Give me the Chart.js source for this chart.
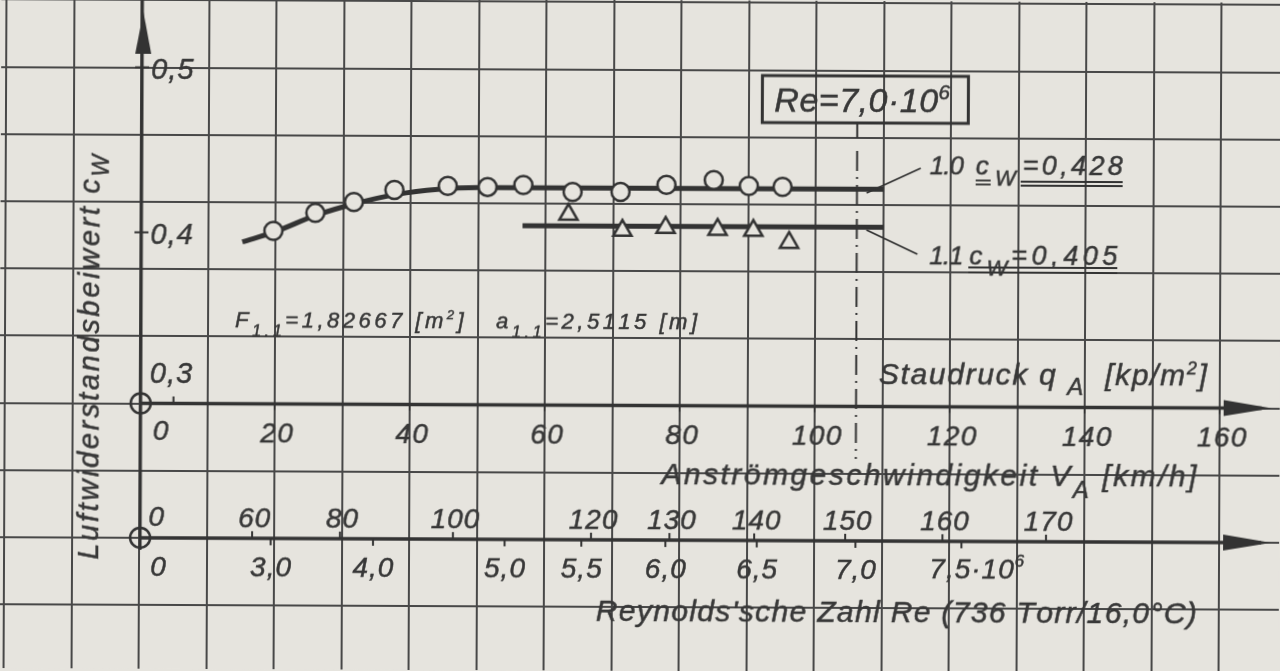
<!DOCTYPE html>
<html>
<head>
<meta charset="utf-8">
<script src="https://cdn.jsdelivr.net/npm/chart.js@4.4.1/dist/chart.umd.min.js"></script>
<style>
  html, body { margin: 0; padding: 0; background: #e6e4de; overflow: hidden; }
  #wrap { width: 1280px; height: 671px; }
  /* the scan sits a quarter degree askew on the glass */
  #cwChart { transform: rotate(0.25deg); transform-origin: 640px 335px; }
</style>
</head>
<body>
<div id="wrap"><canvas id="cwChart" width="1280" height="671"></canvas></div>
<script>
// ===== DATA =====
// x values are Staudruck q_A [kp/m2], y values c_W
const qCircle   = [19.7, 25.9, 31.6, 37.6, 45.5, 51.4, 56.7, 64.0, 71.1, 77.9, 84.9, 90.1, 95.1];
const cwCircle  = [0.4012, 0.4122, 0.4189, 0.4263, 0.4289, 0.4284, 0.4297, 0.4256, 0.4257, 0.4301, 0.4332, 0.4297, 0.4292];
const qTri      = [63.4, 71.4, 77.8, 85.5, 90.8, 96.1];
const cwTri     = [0.4119, 0.4024, 0.4043, 0.4032, 0.4027, 0.3955];
const qFit10    = [15.1, 20, 26, 32, 38, 44, 50, 56, 110.1];
const cwFit10   = [0.3944, 0.4008, 0.4108, 0.4182, 0.4237, 0.4268, 0.428, 0.428, 0.428];
const qFit11    = [56.6, 110.1];
const cwFit11   = [0.405, 0.405];

// axis ticks
const cwTicks   = [0.5, 0.4, 0.3];
const cwLabels  = ["0,5", "0,4", "0,3"];
const qTicks    = [20, 40, 60, 80, 100, 120, 140, 160];
const vTicks    = [60, 80, 100, 120, 130, 140, 150, 160, 170];      // km/h
const reTicks   = [3.0, 4.0, 5.0, 5.5, 6.0, 6.5, 7.0, 7.5];          // x 10^6
const reLabels  = ["3,0", "4,0", "5,0", "5,5", "6,0", "6,5", "7,0", "7,5·10"];
const reMarked  = 7.0;

// air at 736 Torr / 16,0 C
const RHO = 0.1205;            // kp s2/m4
const RE_PER_KMH = 46330;      // Re per km/h (reference length a = 2,5115 m)
const qFromV  = v => RHO / 2 * Math.pow(v / 3.6, 2);
const qFromRe = re => qFromV(re * 1e6 / RE_PER_KMH);

// ===== LOOK =====
const PAPER = "#e6e4de";
const INK = "#333333";
const TXT = "#383838";
const FONT = '"Liberation Sans", Arial, sans-serif';

// text drawn glyph by glyph so the wide letter spacing of the original can be matched
function richText(ctx, segs, x, y, size, opts = {}) {
  const parts = [];
  let natural = 0;
  for (const seg of segs) {
    const [t, s = 1, dy = 0] = Array.isArray(seg) ? seg : [seg];
    const fs = size * s;
    ctx.font = `italic ${fs}px ${FONT}`;
    for (const ch of t) {
      const w = ctx.measureText(ch).width;
      parts.push([ch, fs, dy, w]);
      natural += w;
    }
  }
  const ls = opts.width ? (opts.width - natural) / Math.max(1, parts.length - 1) : (opts.ls ?? 1);
  const total = natural + ls * (parts.length - 1);
  let cx = opts.align === "center" ? x - total / 2 : x;
  ctx.fillStyle = opts.color || TXT;
  ctx.strokeStyle = opts.color || TXT;
  ctx.lineWidth = 0.5;
  ctx.textBaseline = "alphabetic";
  ctx.textAlign = "left";
  for (const [ch, fs, dy, w] of parts) {
    ctx.font = `italic ${fs}px ${FONT}`;
    ctx.fillText(ch, cx, y + dy);
    ctx.strokeText(ch, cx, y + dy);
    cx += w + ls;
  }
  return cx;
}

function line(ctx, x1, y1, x2, y2, w, dash) {
  ctx.save();
  ctx.strokeStyle = INK;
  ctx.lineWidth = w;
  if (dash) ctx.setLineDash(dash);
  ctx.beginPath();
  ctx.moveTo(x1, y1);
  ctx.lineTo(x2, y2);
  ctx.stroke();
  ctx.restore();
}

function arrowHead(ctx, tipX, tipY, dir, len, half) {
  ctx.save();
  ctx.fillStyle = INK;
  ctx.beginPath();
  if (dir === "up") {
    ctx.moveTo(tipX, tipY);
    ctx.lineTo(tipX - half, tipY + len);
    ctx.lineTo(tipX + half, tipY + len);
  } else {
    ctx.moveTo(tipX, tipY);
    ctx.lineTo(tipX - len, tipY - half);
    ctx.lineTo(tipX - len, tipY + half);
  }
  ctx.closePath();
  ctx.fill();
  ctx.restore();
}

const paperPlugin = {
  id: "paper",
  beforeDraw(chart) {
    const { ctx, width, height } = chart;
    ctx.save();
    ctx.fillStyle = PAPER;
    ctx.fillRect(0, 0, width, height);
    ctx.restore();
  },
  afterDraw(chart) {
    const { ctx } = chart;
    const sx = chart.scales.x, sy = chart.scales.y, sp = chart.scales.yp;
    const x0 = sx.getPixelForValue(0);
    const yQ = sp.getPixelForValue(6);    // Staudruck axis
    const yR = sp.getPixelForValue(8);    // Geschwindigkeit / Reynolds axis

    // ----- axes -----
    line(ctx, x0 + 1, 0, x0 + 1, yR + 12, 3);
    arrowHead(ctx, x0 + 2, 14, "up", 42, 8);
    line(ctx, x0, yQ, 1262, yQ, 3.5);
    line(ctx, x0, yR, 1262, yR, 3.5);
    arrowHead(ctx, 1272, yQ, "right", 48, 8);
    arrowHead(ctx, 1272, yR, "right", 48, 8);
    for (const y of [yQ, yR]) {
      ctx.save();
      ctx.strokeStyle = INK;
      ctx.lineWidth = 2.5;
      ctx.beginPath();
      ctx.arc(x0 + 1, y, 10, 0, Math.PI * 2);
      ctx.stroke();
      ctx.restore();
    }

    // ----- c_W ticks -----
    cwTicks.forEach((v, i) => {
      const y = sy.getPixelForValue(v);
      if (v !== 0.3) line(ctx, x0 - 6, y, x0 + 8, y, 2);
      const by = v === 0.3 ? y - 15 : y + 11;
      richText(ctx, [cwLabels[i]], x0 + 10, by, 29, { ls: 1 });
    });
    line(ctx, sx.getPixelForValue(5), yQ - 7, sx.getPixelForValue(5), yQ, 2);

    // ----- q ticks -----
    richText(ctx, ["0"], x0 + 21, yQ + 36, 28, { align: "center" });
    qTicks.forEach(v => {
      const x = sx.getPixelForValue(v);
      line(ctx, x, yQ, x, yQ + 6, 2);
      richText(ctx, [String(v)], x + 2, yQ + 38, 28, { align: "center", ls: 1.5 });
    });

    // ----- V ticks (above) and Re ticks (below) -----
    richText(ctx, ["0"], x0 + 17, yR - 12, 28, { align: "center" });
    vTicks.forEach(v => {
      const x = sx.getPixelForValue(qFromV(v));
      line(ctx, x, yR - 7, x, yR, 2);
      richText(ctx, [String(v)], x + 2, yR - 11, 28, { align: "center", ls: 1 });
    });
    richText(ctx, ["0"], x0 + 19, yR + 38, 28, { align: "center" });
    reTicks.forEach((v, i) => {
      const x = sx.getPixelForValue(qFromRe(v));
      line(ctx, x, yR, x, yR + 7, 2);
      if (i === reTicks.length - 1) {
        richText(ctx, [reLabels[i], ["6", 0.6, -12]], x - 32, yR + 37, 28, { ls: 1 });
      } else {
        richText(ctx, [reLabels[i]], x, yR + 38, 28, { align: "center", ls: 1 });
      }
    });

    // ----- axis titles -----
    richText(ctx, ["Staudruck q ", ["A", 0.8, 10], "  [kp/m", ["2", 0.6, -11], "]"], 879, 383, 30, { width: 328 });
    richText(ctx, ["Anströmgeschwindigkeit V", ["A", 0.8, 12], " [km/h]"], 662, 484, 30, { width: 535 });
    richText(ctx, ["Reynolds'sche Zahl Re (736 Torr/16,0°C)"], 597, 621, 30, { width: 601 });
    ctx.save();
    ctx.translate(99, 562);
    ctx.rotate(-Math.PI / 2);
    richText(ctx, ["Luftwiderstandsbeiwert c", ["W", 0.8, 9]], 0, 0, 29, { width: 405 });
    ctx.restore();

    richText(ctx, ["F", ["1.1", 0.75, 9], "=1,82667 [m", ["2", 0.6, -9], "]   a", ["1.1", 0.75, 9], "=2,5115 [m]"],
      235, 329, 22, { width: 462 });

    // ----- Re = 7,0·10^6 marker -----
    const xm = sx.getPixelForValue(qFromRe(reMarked));
    ctx.save();
    ctx.strokeStyle = INK;
    ctx.lineWidth = 3;
    ctx.strokeRect(xm - 95, 75, 206, 47);
    ctx.restore();
    richText(ctx, ["Re=7,0·10", ["6", 0.6, -13]], xm - 83, 111, 34, { ls: 0.5 });
    line(ctx, xm, 122, xm, 137, 2);
    line(ctx, xm, 150, xm, 458, 2, [20, 6, 2, 6]);

    // ----- fitted values -----
    line(ctx, 866, 192, 920, 167, 1.8);
    line(ctx, 866, 229, 917, 253, 1.8);
    richText(ctx, ["1.0"], 929, 173, 26, { ls: -1 });
    richText(ctx, ["c", ["W", 0.85, 11]], 975, 173, 26, { width: 40 });
    richText(ctx, ["=0,428"], 1022, 173, 27, { width: 100 });
    richText(ctx, ["1.1"], 929, 263, 26, { ls: -1 });
    richText(ctx, ["c", ["W", 0.85, 11]], 969, 263, 26, { width: 38 });
    richText(ctx, ["=0,405"], 1011, 263, 27, { width: 106 });
    line(ctx, 975, 179, 990, 179, 1.8); line(ctx, 975, 183, 990, 183, 1.8);
    line(ctx, 1020, 180, 1122, 180, 1.8); line(ctx, 1020, 184, 1122, 184, 1.8);
    line(ctx, 968, 266, 1117, 266, 1.8); line(ctx, 968, 271, 1117, 271, 1.8);
  }
};

const toXY = (xs, ys) => xs.map((x, i) => ({ x, y: ys[i] }));

// paper geometry (before the quarter-degree tilt)
const X0_PX = 140, PX_PER_Q = 6.75;
const Y05_PX = 69.5, PX_PER_CW = 1650;
const ROW0_PX = 2.3, ROW_PX = 67.2;

new Chart(document.getElementById("cwChart"), {
  type: "scatter",
  data: {
    datasets: [
      {
        label: "1.0",
        data: toXY(qCircle, cwCircle),
        pointStyle: "circle",
        pointRadius: 9,
        pointBorderWidth: 2.5,
        borderColor: INK,
        backgroundColor: PAPER,
        showLine: false
      },
      {
        label: "1.1",
        data: toXY(qTri, cwTri),
        pointStyle: "triangle",
        pointRadius: 10.5,
        pointBorderWidth: 2.5,
        borderColor: INK,
        backgroundColor: PAPER,
        showLine: false
      },
      {
        label: "Ausgleich 1.0",
        data: toXY(qFit10, cwFit10),
        showLine: true,
        borderColor: INK,
        borderWidth: 5,
        pointRadius: 0,
        cubicInterpolationMode: "monotone"
      },
      {
        label: "Ausgleich 1.1",
        data: toXY(qFit11, cwFit11),
        showLine: true,
        borderColor: INK,
        borderWidth: 5,
        pointRadius: 0
      }
    ]
  },
  options: {
    responsive: false,
    devicePixelRatio: 1,
    animation: false,
    layout: { padding: 0, autoPadding: false },
    plugins: {
      legend: { display: false },
      tooltip: { enabled: false }
    },
    scales: {
      x: {
        type: "linear",
        min: -X0_PX / PX_PER_Q,
        max: (1280 - X0_PX) / PX_PER_Q,
        ticks: { display: false, stepSize: 10, includeBounds: false },
        grid: { color: "#484848", lineWidth: 2, drawTicks: false },
        border: { display: false }
      },
      y: {
        type: "linear",
        display: false,
        min: 0.5 - (671 - Y05_PX) / PX_PER_CW,
        max: 0.5 + Y05_PX / PX_PER_CW
      },
      yp: {
        type: "linear",
        position: "left",
        reverse: true,
        min: -ROW0_PX / ROW_PX,
        max: (671 - ROW0_PX) / ROW_PX,
        ticks: { display: false, stepSize: 1, includeBounds: false },
        grid: { color: "#484848", lineWidth: 2, drawTicks: false },
        border: { display: false }
      }
    }
  },
  plugins: [paperPlugin]
});
</script>
</body>
</html>
